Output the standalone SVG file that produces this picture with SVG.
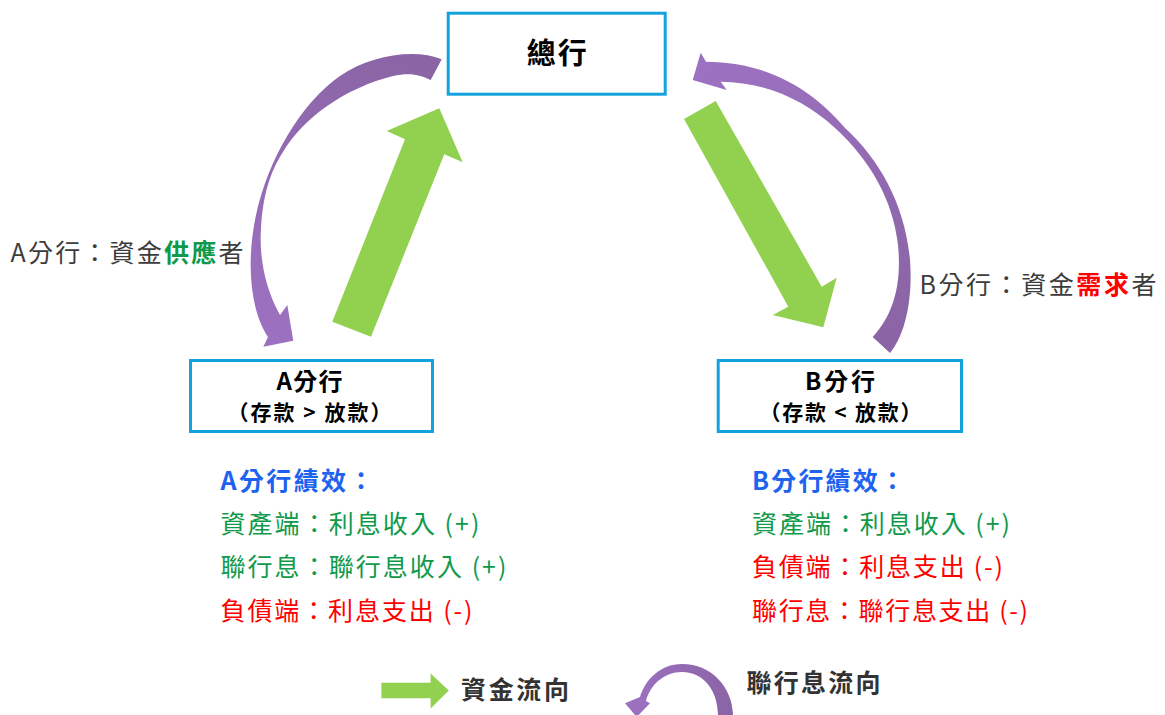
<svg xmlns="http://www.w3.org/2000/svg" width="1165" height="715" viewBox="0 0 1165 715">
<style>
text{font-family:"Noto Sans CJK TC","Noto Sans CJK SC",sans-serif}
.box{fill:#fff;stroke:#12a3dc;stroke-width:3}
.t-box{font-weight:700;fill:#000;text-anchor:middle}
.flow{fill:#92D050}
.lbl{fill:#3c3c3c;font-size:25px}
.hd{fill:#1e63f0;font-weight:700;font-size:25px}
.g{fill:#0f9a4a;font-size:25px}
.r{fill:#ff0000;font-size:25px}
.leg{fill:#333;font-weight:700;font-size:25px}
</style>
<defs>
<linearGradient id="gpa" gradientUnits="userSpaceOnUse" x1="430" y1="60" x2="270" y2="340"><stop offset="0" stop-color="#8a64a4"/><stop offset="1" stop-color="#9d71c1"/></linearGradient>
<linearGradient id="gpb" gradientUnits="userSpaceOnUse" x1="700" y1="70" x2="890" y2="350"><stop offset="0" stop-color="#9d71c1"/><stop offset="1" stop-color="#8a64a4"/></linearGradient>
<linearGradient id="gpl" gradientUnits="userSpaceOnUse" x1="630" y1="700" x2="735" y2="700"><stop offset="0" stop-color="#9d71c1"/><stop offset="1" stop-color="#8a64a4"/></linearGradient>
</defs>
<rect width="1165" height="715" fill="#fff"/>

<g id="connectors">
  <polygon id="flow-a-hq" class="flow" points="332.3,321.7 405,139.3 386.7,131 439.3,108.3 462.7,162.3 444.3,154.3 371,336.7"/>
  <polygon id="flow-hq-b" class="flow" points="684,119 715.7,101 821.7,286.7 836.7,277.7 823.3,327.3 772.7,315 788.3,306.7"/>
  <path id="interest-hq-a" fill="url(#gpa)" d="M441.7,59.3 C415,48 370,55 340,76 C300,104 268,160 256,215 C246,262 250,310 268,337 L263.3,346.7 L293.3,340.7 L287.3,305 L280,315 C266,290 259,260 261,228 C263,195 270,172 283,152 C303,118 345,88 393,76 C410,72 421,75 430.7,80 Z"/>
  <path id="interest-b-hq" fill="url(#gpb)" d="M890,353 C905,335 913,300 910,260 C905,205 880,160 845,128 C815,92 770,62 706,61.7 L700.7,52.7 L692.7,80 L726.7,90 L720.7,81.7 C765,82 805,100 835,128 C870,160 893,200 898,245 C902,285 893,315 872.7,337 Z"/>
</g>

<g id="node-hq">
  <rect class="box" x="448.2" y="13.2" width="217" height="81"/>
  <text class="t-box" x="556.7" y="64" font-size="29" textLength="60" lengthAdjust="spacing">總行</text>
</g>

<g id="node-a">
  <rect class="box" x="190.5" y="360.5" width="242" height="71"/>
  <text class="t-box" x="309.5" y="390" font-size="24" textLength="66" lengthAdjust="spacing">A分行</text>
  <text class="t-box" x="309.5" y="420" font-size="21" textLength="164" lengthAdjust="spacing">（存款 &gt; 放款）</text>
</g>

<g id="node-b">
  <rect class="box" x="718.2" y="360.5" width="243.3" height="71"/>
  <text class="t-box" x="840" y="390" font-size="24" textLength="70" lengthAdjust="spacing">B分行</text>
  <text class="t-box" x="840.5" y="420" font-size="21" textLength="162" lengthAdjust="spacing">（存款 &lt; 放款）</text>
</g>

<g id="label-a">
  <text class="lbl" x="10.5" y="262" textLength="233" lengthAdjust="spacing">A分行：資金<tspan fill="#0f9a4a" font-weight="700">供應</tspan>者</text>
</g>
<g id="label-b">
  <text class="lbl" x="919.5" y="294" textLength="237" lengthAdjust="spacing">B分行：資金<tspan fill="#ff0000" font-weight="700">需求</tspan>者</text>
</g>

<g id="perf-a">
  <text class="hd" x="220.5" y="490" textLength="153" lengthAdjust="spacing">A分行績效：</text>
  <text class="g" x="220.5" y="533" textLength="259" lengthAdjust="spacing">資產端：利息收入 (+)</text>
  <text class="g" x="220.5" y="576" textLength="286" lengthAdjust="spacing">聯行息：聯行息收入 (+)</text>
  <text class="r" x="220.5" y="620" textLength="252" lengthAdjust="spacing">負債端：利息支出 (-)</text>
</g>

<g id="perf-b">
  <text class="hd" x="752" y="490" textLength="153" lengthAdjust="spacing">B分行績效：</text>
  <text class="g" x="752" y="533" textLength="258" lengthAdjust="spacing">資產端：利息收入 (+)</text>
  <text class="r" x="752" y="576" textLength="251" lengthAdjust="spacing">負債端：利息支出 (-)</text>
  <text class="r" x="752" y="620" textLength="276" lengthAdjust="spacing">聯行息：聯行息支出 (-)</text>
</g>

<g id="legend">
  <polygon class="flow" points="381.4,682.7 430.6,682.7 430.6,673.4 448.8,690.6 430.6,708.5 430.6,698.2 381.4,698.2"/>
  <text class="leg" x="461" y="699" textLength="108" lengthAdjust="spacing">資金流向</text>
  <path fill="url(#gpl)" d="M733,716 C733,688 712,664 682,664 C660,664 645,680 640,697 L625,703.3 L636.7,717 L650,703.3 L646,701 C650,685 664,672 682,672 C705,672 718,692 718,716 Z"/>
  <text class="leg" x="746.5" y="692" textLength="134" lengthAdjust="spacing">聯行息流向</text>
</g>
</svg>
